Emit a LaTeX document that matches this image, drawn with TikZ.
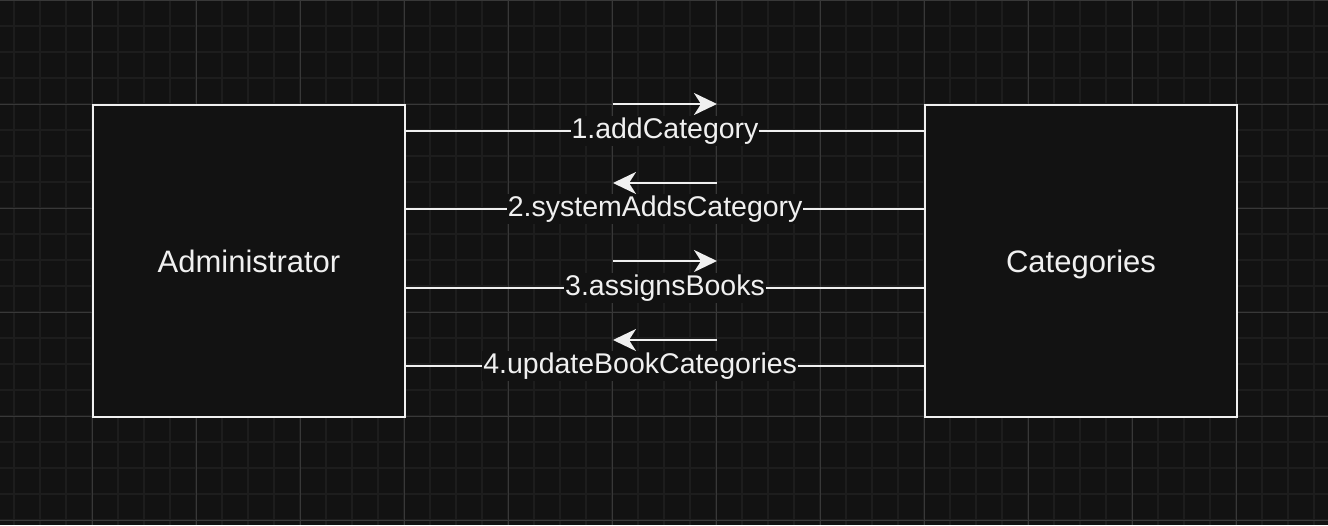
\documentclass[tikz,border=0pt]{standalone}
\usepackage{fontspec}
\setmainfont{Liberation Sans}
\usetikzlibrary{arrows.meta}
\definecolor{canvas}{HTML}{121212}
\definecolor{minorgrid}{HTML}{1D1D1D}
\definecolor{majorgrid}{HTML}{383838}
\definecolor{ink}{HTML}{F0F0F0}
\begin{document}
\begin{tikzpicture}[x=1pt,y=-1pt,
	entity/.style={draw=ink, line width=2.5, fill=canvas, minimum size=312, text=ink, text height=22.6, text depth=0, font=\fontsize{31}{36}\selectfont},
	flow/.style={ink, line width=2},
	msg/.style={fill=canvas, text=ink, inner sep=1, text height=21, text depth=7, font=\fontsize{28.5}{34}\selectfont},
	dir/.style={ink, line width=2.5, arrows={-Stealth[length=23,width=22,inset=7]}}]
	\fill [canvas] (0,0) rectangle (1328,525);
	\useasboundingbox (0,0) rectangle (1328,525);
	% grid
	\foreach \x in {14,40,...,1328} \draw [minorgrid, line width=2] (\x,0) -- (\x,525);
	\foreach \y in {0,26,...,525} \draw [minorgrid, line width=2] (0,\y) -- (1328,\y);
	\foreach \x in {92,196,...,1328} \draw [majorgrid, line width=1] (\x,0) -- (\x,525);
	\foreach \y in {0,104,...,525} \draw [majorgrid, line width=1] (0,\y) -- (1328,\y);
	% entities
	\node [entity] (admin) at (249,261) {Administrator};
	\node [entity] (cat) at (1081,261) {Categories};
	% messages
	\draw [flow] (admin.east |- 0,131) -- coordinate (c1) node [msg] (m1) {1.addCategory} (cat.west |- 0,131);
	\draw [flow] (admin.east |- 0,209) -- coordinate (c2) node [msg, pos=0.481] (m2) {2.systemAddsCategory} (cat.west |- 0,209);
	\draw [flow] (admin.east |- 0,288) -- coordinate (c3) node [msg] (m3) {3.assignsBooks} (cat.west |- 0,288);
	\draw [flow] (admin.east |- 0,366) -- coordinate (c4) node [msg, pos=0.452] (m4) {4.updateBookCategories} (cat.west |- 0,366);
	\draw [dir] ([xshift=-52,yshift=27]c1) -- ([xshift=52,yshift=27]c1);
	\draw [dir] ([xshift=52,yshift=26]c2) -- ([xshift=-52,yshift=26]c2);
	\draw [dir] ([xshift=-52,yshift=27]c3) -- ([xshift=52,yshift=27]c3);
	\draw [dir] ([xshift=52,yshift=26]c4) -- ([xshift=-52,yshift=26]c4);
\end{tikzpicture}
\end{document}
